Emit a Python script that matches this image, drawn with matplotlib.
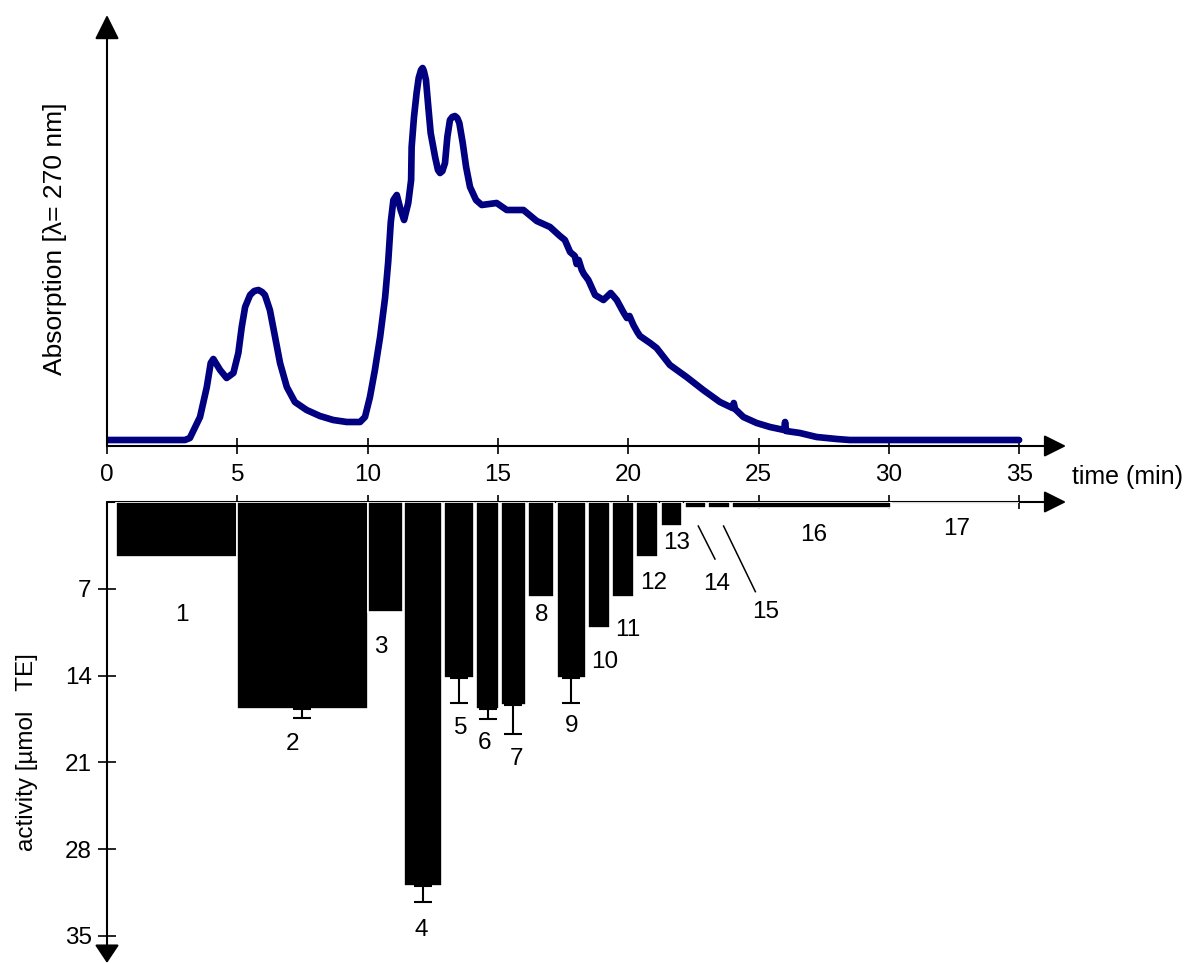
import numpy as np
import matplotlib
matplotlib.use('Agg')
import matplotlib.pyplot as plt

plt.rcParams['font.family'] = ['Liberation Sans', 'DejaVu Sans']
plt.rcParams['font.size'] = 17.5

# chromatogram trace, time in min and absorption in arbitrary units
time = [0.0, 2.99, 3.18, 3.57, 3.83, 3.98, 4.08, 4.34, 4.59, 4.85, 5.04, 5.17, 5.30, 5.49,
        5.65, 5.81, 5.95, 6.06, 6.25, 6.45, 6.64, 6.90, 7.21, 7.66, 8.17, 8.68, 9.20,
        9.71, 9.90, 10.09, 10.28, 10.48, 10.67, 10.79, 10.89, 10.99, 11.12, 11.27, 11.40,
        11.56, 11.67, 11.69, 11.78, 11.88, 11.96, 12.05, 12.11, 12.16, 12.24, 12.33,
        12.42, 12.59, 12.70, 12.78, 12.87, 12.97, 13.06, 13.16, 13.25, 13.35, 13.44,
        13.52, 13.65, 13.78, 13.93, 14.16, 14.38, 14.95, 15.34, 15.98, 16.49, 17.0,
        17.38, 17.57, 17.77, 17.95, 18.02, 18.10, 18.22, 18.30, 18.47, 18.73, 19.05,
        19.33, 19.56, 19.81, 19.95, 20.05, 20.2, 20.35, 20.45, 20.84, 21.09, 21.6,
        22.24, 22.88, 23.52, 24.00, 24.05, 24.10, 24.42, 24.93, 25.44, 25.98, 26.02,
        26.06, 26.59, 27.23, 28.0, 28.5, 35.0]
absorption = [0, 0, 2, 23, 53, 77, 81, 70, 62, 67, 87, 113, 133, 145,
              149, 150, 148, 145, 130, 103, 77, 53, 38, 30, 24, 20, 18,
              18, 23, 43, 70, 103, 142, 178, 218, 240, 245, 230, 220,
              237, 260, 293, 323, 347, 362, 370, 372, 369, 360, 333,
              307, 283, 270, 267, 269, 277, 303, 320, 323, 324, 322,
              317, 297, 273, 253, 240, 235, 237, 230, 230, 219, 213,
              204, 200, 188, 184, 176, 180, 170, 166, 160, 145, 140,
              147, 140, 128, 122, 124, 115, 108, 104, 97, 92, 75,
              63, 50, 38, 32, 37, 31, 23, 17, 13, 10, 18,
              9, 7, 3, 1, 0, 0]

# collected fractions: start / end time (min), activity and error
frac_start = [0.35, 5.0, 10.0, 11.4, 12.93, 14.17, 15.1, 16.15, 17.25, 18.45, 19.38,
              20.3, 21.24, 22.18, 23.07, 24.0, 30.0]
frac_end = [5.0, 10.0, 11.34, 12.86, 14.1, 15.04, 16.08, 17.15, 18.38, 19.3, 20.22,
            21.16, 22.08, 22.97, 23.9, 30.08, 35.0]
activity = [4.4, 16.7, 8.9, 31.0, 14.2, 16.7, 16.4, 7.7, 14.2, 10.2, 7.7, 4.4, 1.9,
            0.5, 0.5, 0.5, 0]
activity_err = [0, 0.7, 0, 1.3, 2.0, 0.8, 2.3, 0, 2.0, 0, 0, 0, 0, 0, 0, 0, 0]
frac_names = [str(i) for i in range(1, 18)]

# where the fraction numbers sit (layout only)
name_pos = [(2.88, 9.1), (7.13, 19.5), (10.5, 11.7), (12.05, 34.5), (13.58, 18.2),
            (14.5, 19.4), (15.72, 20.7), (16.68, 9.1), (17.83, 18.1), (19.11, 12.9),
            (20.0, 10.3), (20.96, 6.55), (21.86, 3.3), (23.4, 6.6), (25.27, 8.9),
            (27.1, 2.65), (32.6, 2.2)]
leaders = {13: [(22.69, 1.94), (23.33, 4.6)], 14: [(23.66, 1.94), (24.88, 7.23)]}

W, H = 1189, 963
px_per_min = 26.06
fig = plt.figure(figsize=(W / 100, H / 100), dpi=100)
left = 107 / W
width = (1066 - 107) / W
xmax = (1066 - 107) / px_per_min

ax1 = fig.add_axes([left, (H - 446) / H, width, (446 - 15) / H])
ax2 = fig.add_axes([left, 0, width, (H - 502) / H])

arrow = dict(arrowstyle='-|>,head_length=1.0,head_width=0.5', color='black',
             lw=1.5, shrinkA=0, shrinkB=0, mutation_scale=15)
arrow_h = dict(arrow, arrowstyle='-|>,head_length=0.9,head_width=0.45')
arrow_down = dict(arrow, arrowstyle='-|>,head_length=0.75,head_width=0.5')

# top: absorption trace
ax1.plot(time, absorption, color='#000080', lw=4.8, zorder=3,
         solid_joinstyle='round', solid_capstyle='round')
ax1.set_xlim(0, xmax)
ax1.set_ylim(-6, 425)
for s in ax1.spines.values():
    s.set_visible(False)
ax1.annotate('', xy=(1, 0), xytext=(0, 0), xycoords='axes fraction', arrowprops=arrow_h)
ax1.annotate('', xy=(0, 1), xytext=(0, 0), xycoords='axes fraction', arrowprops=arrow)
ax1.set_xticks(range(0, 36, 5))
ax1.set_yticks([])
ax1.tick_params(axis='x', direction='inout', length=11.5, width=1.2, pad=7, labelsize=17.5)

# bottom: activity of the fractions, hanging downward
widths = [e - s for s, e in zip(frac_start, frac_end)]
ax2.bar(frac_start, activity, width=widths, align='edge', color='black',
        edgecolor='white', linewidth=1.2, zorder=2)
centers = np.array(frac_start) + np.array(widths) / 2
err = np.array(activity_err)
m = err > 0
ax2.errorbar(centers[m], np.array(activity)[m], yerr=[np.zeros(m.sum()), err[m]],
             fmt='none', ecolor='black', elinewidth=1.5, capsize=6.5, capthick=1.5, zorder=3)
ax2.set_xlim(0, xmax)
ax2.set_ylim(37.18, 0)
for s in ax2.spines.values():
    s.set_visible(False)
ax2.annotate('', xy=(1, 1), xytext=(0, 1), xycoords='axes fraction', arrowprops=arrow_h, zorder=1)
ax2.annotate('', xy=(0, 0), xytext=(0, 1), xycoords='axes fraction', arrowprops=arrow_down)
ax2.xaxis.tick_top()
ax2.set_xticks(range(5, 36, 5))
ax2.tick_params(axis='x', direction='inout', length=10, width=1.2, labeltop=False)
ax2.set_yticks([7, 14, 21, 28, 35])
ax2.tick_params(axis='y', direction='inout', length=13, width=1.2, pad=4.5, labelsize=17.5)

for i, name in enumerate(frac_names):
    x, y = name_pos[i]
    ax2.text(x, y, name, ha='center', va='center', fontsize=17.5)
for i, pts in leaders.items():
    ax2.plot([pts[0][0], pts[1][0]], [pts[0][1], pts[1][1]], color='black', lw=1.1)

fig.text(1072 / W, 1 - 477 / H, 'time (min)', ha='left', va='center', fontsize=18)
fig.text(55 / W, 1 - 239 / H, 'Absorption [λ= 270 nm]', rotation=90,
         ha='center', va='center', fontsize=19)
fig.text(27 / W, 1 - 752 / H, 'activity [µmol   TE]', rotation=90,
         ha='center', va='center', fontsize=17.5)

plt.savefig('out.png', dpi=100)
